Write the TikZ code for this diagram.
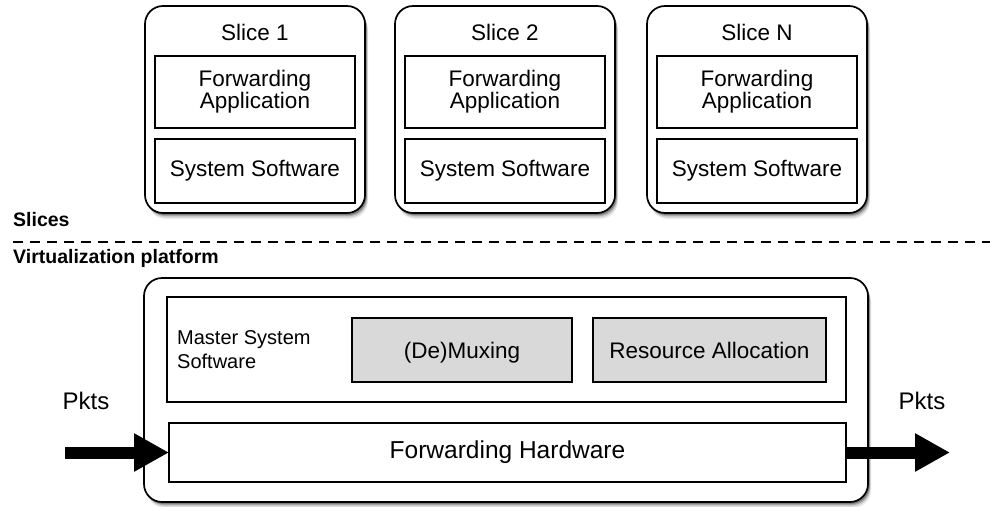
\documentclass[tikz,border=0pt]{standalone}
\usepackage{fontspec}
\setmainfont{Liberation Sans}
\usetikzlibrary{arrows.meta,shadows}
\tikzset{
  softshadow/.style={
    general shadow={shadow xshift=3pt, shadow yshift=-6pt, fill=black, opacity=0.08},
    general shadow={shadow xshift=2.5pt, shadow yshift=-4.5pt, fill=black, opacity=0.12},
    general shadow={shadow xshift=2pt, shadow yshift=-3pt, fill=black, opacity=0.18},
    general shadow={shadow xshift=1.5pt, shadow yshift=-2pt, fill=black, opacity=0.25}},
  outerbox/.style={draw, line width=1.7pt, rounded corners=18pt, fill=white, softshadow,
    anchor=north west, inner sep=0pt, outer sep=0pt},
  innerbox/.style={draw, line width=1.3pt, fill=white, anchor=north west, inner sep=0pt,
    outer sep=0pt, align=center, font=\fontsize{22.5}{22}\selectfont},
  graybox/.style={innerbox, fill=gray!30, text height=16pt, text depth=0pt},
  slicelabel/.style={font=\fontsize{22.5}{22}\selectfont},
  sectlabel/.style={font=\fontsize{19.5}{20}\selectfont\bfseries, anchor=west, inner sep=0pt},
  pktlabel/.style={font=\fontsize{24}{24}\selectfont},
  bigarrow/.style={line width=12pt, -{Triangle[length=35pt,width=36pt]}},
}
\begin{document}
\begin{tikzpicture}[x=1pt,y=-1pt]
\useasboundingbox (0,0) rectangle (990,506);

% Slices
\foreach \cx/\name/\lab in {255/s1/Slice 1, 505/s2/Slice 2, 757/sn/Slice N}{
  \node[outerbox, minimum width=220pt, minimum height=207pt] (\name) at (\cx-110,6) {};
  \node[slicelabel] (\name-t) at (\cx,32) {\lab};
  \node[innerbox, minimum width=200pt, minimum height=72pt] (\name-fa) at (\cx-100,56) {Forwarding\\Application};
  \node[innerbox, minimum width=200pt, minimum height=64pt] (\name-ss) at (\cx-100,139) {System Software};
}

% Section labels and divider
\node[sectlabel] (slices) at (13,220) {Slices};
\node[sectlabel] (virt) at (13,258) {Virtualization platform};
\coordinate (dl) at (13,242);
\coordinate (dr) at (990,242);
\draw[line width=1.6pt, dash pattern=on 10pt off 7pt] (dl) -- (dr);

% Platform
\node[outerbox, minimum width=724pt, minimum height=224pt] (plat) at (144,278) {};
\node[innerbox, minimum width=679pt, minimum height=105pt] (mss) at (167,297) {};
\node[anchor=west, align=left, inner sep=0pt, font=\fontsize{20}{24}\selectfont] (msst) at (177,350) {Master System\\Software};
\node[graybox, minimum width=220pt, minimum height=64pt] (demux) at (352,318) {(De)Muxing};
\node[graybox, minimum width=233pt, minimum height=64pt] (ra) at (593,318) {Resource Allocation};
\node[innerbox, minimum width=677pt, minimum height=59pt, font=\fontsize{24.5}{24}\selectfont] (fh) at (169,423) {Forwarding Hardware};

% Packets
\coordinate (inL) at (65,452.5);
\coordinate (outR) at (950,452.5);
\draw[bigarrow] (inL) -- (fh.west);
\draw[bigarrow] (fh.east) -- (outR);
\node[pktlabel] (pin) at (86,401) {Pkts};
\node[pktlabel] (pout) at (922,401) {Pkts};
\end{tikzpicture}
\end{document}
